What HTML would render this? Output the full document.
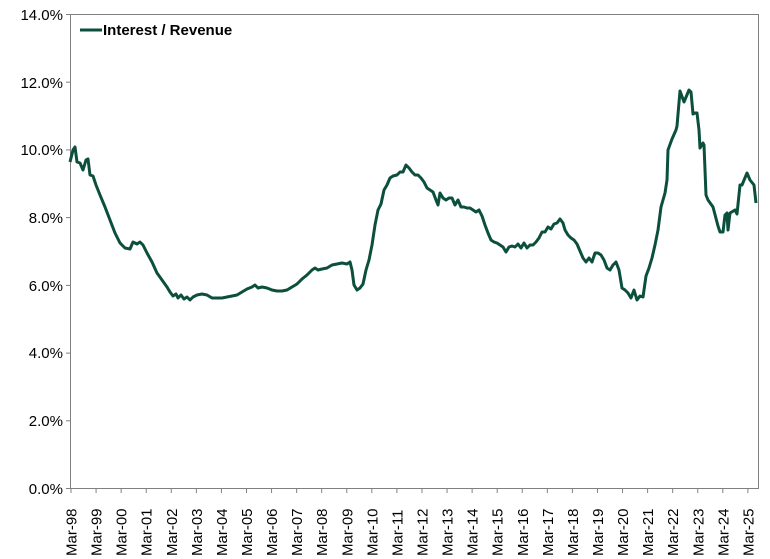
<!DOCTYPE html>
<html><head><meta charset="utf-8"><style>
html,body{margin:0;padding:0;background:#fff;}
svg{display:block;font-family:"Liberation Sans",Arial,sans-serif;}
</style></head><body>
<svg width="770" height="559" viewBox="0 0 770 559" xmlns="http://www.w3.org/2000/svg">
<rect x="70.5" y="14.5" width="688" height="474" fill="none" stroke="#808080" stroke-width="1"/>
<g stroke="#808080" stroke-width="1">
<line x1="66" y1="14.5" x2="70" y2="14.5"/><line x1="66" y1="82.2" x2="70" y2="82.2"/><line x1="66" y1="149.9" x2="70" y2="149.9"/><line x1="66" y1="217.6" x2="70" y2="217.6"/><line x1="66" y1="285.4" x2="70" y2="285.4"/><line x1="66" y1="353.1" x2="70" y2="353.1"/><line x1="66" y1="420.8" x2="70" y2="420.8"/><line x1="66" y1="488.5" x2="70" y2="488.5"/>
</g>
<g font-size="15" fill="#000" text-anchor="end">
<text x="63" y="20">14.0%</text><text x="63" y="88">12.0%</text><text x="63" y="155">10.0%</text><text x="63" y="223">8.0%</text><text x="63" y="291">6.0%</text><text x="63" y="358">4.0%</text><text x="63" y="426">2.0%</text><text x="63" y="494">0.0%</text>
</g>
<g id="xt" stroke="#808080" stroke-width="1"></g>
<g id="xl" font-size="15" fill="#000"></g>
<polyline fill="none" stroke="#0b4f3c" stroke-width="3" stroke-linejoin="round" points="70,162 73,150 75,147 77,162 80,163 83,170 86,160 88,159 90,175 93,176 96,185 100,195 105,207 110,220 115,233 120,243 125,248 130,249 133,242 137,244 140,242 143,245 147,253 152,262 157,273 162,280 167,287 170,292 173,296 176,294 178,298 181,295 184,299 187,297 190,300 193,297 197,295 202,294 207,295 212,298 217,298 222,298 227,297 232,296 237,295 242,292 247,289 252,287 255,285 258,288 262,287 267,288 272,290 277,291 282,291 287,290 292,287 297,284 302,279 307,275 312,270 315,268 318,270 322,269 327,268 332,265 337,264 342,263 347,264 350,262 352,270 354,285 357,290 360,288 363,284 366,270 369,260 372,245 375,225 378,210 381,204 384,190 387,185 390,178 393,176 397,175 400,172 403,172 406,165 409,168 412,172 415,175 418,175 421,178 424,182 427,188 430,190 433,192 436,200 438,205 440,193 443,198 446,200 449,198 452,198 455,205 458,200 461,207 464,207 467,208 470,208 473,210 476,212 479,210 482,216 485,225 488,233 491,240 494,242 497,243 500,245 503,247 506,252 509,247 512,246 515,247 518,244 521,248 524,243 527,248 530,245 533,245 536,242 539,238 542,232 545,232 548,227 551,229 554,224 557,223 560,219 563,223 565,230 568,235 571,238 574,240 577,244 580,251 583,258 586,262 589,258 592,262 595,253 598,253 601,255 604,260 607,268 610,270 613,265 616,262 619,270 622,288 625,290 628,293 631,298 634,290 637,300 640,296 643,297 646,276 649,268 652,258 655,245 658,230 661,207 665,193 667,180 668,150 672,139 676,130 677,126 680,91 684,102 689,90 691,92 693,114 695,113 697,113 699,130 700,148 703,143 704,145 706,195 708,200 713,207 718,226 720,232 723,232 725,215 727,213 728,230 730,213 735,210 737,214 740,185 742,185 747,173 750,180 754,185 756,203"/>
<line x1="80" y1="30" x2="102" y2="30" stroke="#0b4f3c" stroke-width="3"/>
<text x="103" y="35" font-size="15" font-weight="bold" fill="#000">Interest / Revenue</text>
<script>
var t=document.getElementById('xt'),l=document.getElementById('xl'),ns='http://www.w3.org/2000/svg';
for(var k=0;k<28;k++){var x=71+k*25.07;var yy=(98+k)%100;var s='Mar-'+(yy<10?'0':'')+yy;
var ln=document.createElementNS(ns,'line');ln.setAttribute('x1',x);ln.setAttribute('x2',x);ln.setAttribute('y1',488);ln.setAttribute('y2',493);t.appendChild(ln);
var tx=document.createElementNS(ns,'text');tx.setAttribute('transform','translate('+(x+5.5)+',556) rotate(-90)');tx.textContent=s;l.appendChild(tx);}
</script>
</svg>
</body></html>
